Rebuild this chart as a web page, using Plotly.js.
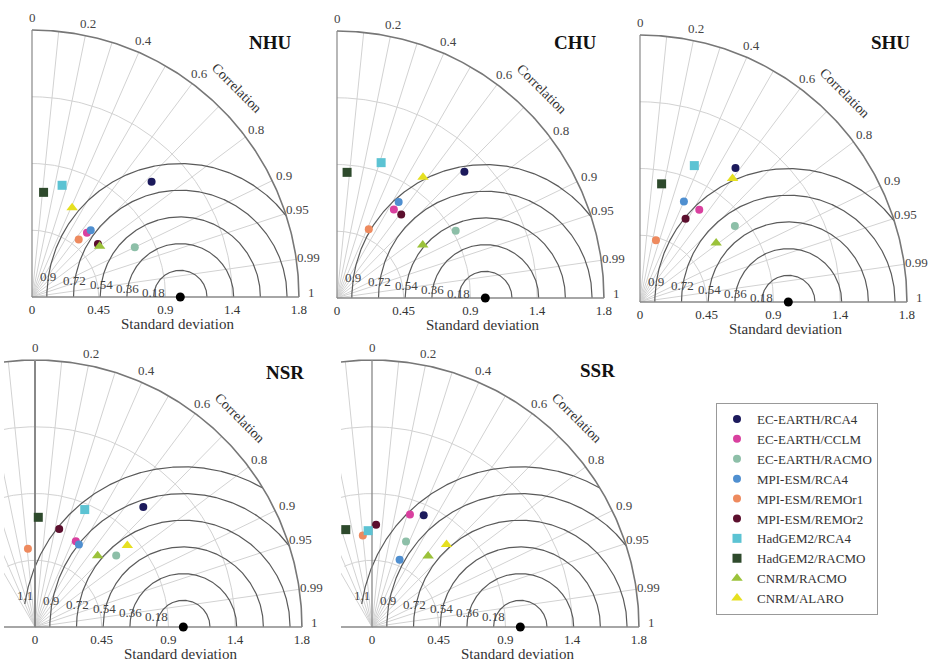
<!DOCTYPE html>
<html><head><meta charset="utf-8">
<script src="https://cdn.plot.ly/plotly-3.0.1.min.js"></script>
<style>html,body{margin:0;padding:0;background:#fff}#chart{width:931px;height:664px}</style>
</head><body><div id="chart"></div>
<script>
// ---------- data ----------
const models = ['EC-EARTH/RCA4','EC-EARTH/CCLM','EC-EARTH/RACMO','MPI-ESM/RCA4','MPI-ESM/REMOr1',
                'MPI-ESM/REMOr2','HadGEM2/RCA4','HadGEM2/RACMO','CNRM/RACMO','CNRM/ALARO'];
const modelColors = ['#1c1a5c','#d9409f','#8dbfa8','#4f8fd0','#ee8a5e','#5c0f2e','#5cc3d3','#2e4a2c','#9bc23a','#e6e020'];
const modelSymbols = ['circle','circle','circle','circle','circle','circle','square','square','triangle-up','triangle-up'];
const modelSizes = [8,8,8,8,8,8,9,9,10,10];

const regions = ['NHU','CHU','SHU','NSR','SSR'];
const stdNHU  = [1.12, 0.57, 0.77, 0.60, 0.50, 0.57, 0.78, 0.71, 0.57, 0.66];
const corrNHU = [0.72, 0.65, 0.90, 0.66, 0.63, 0.78, 0.26, 0.11, 0.80, 0.41];
const stdCHU  = [1.21, 0.71, 0.92, 0.77, 0.51, 0.71, 0.96, 0.85, 0.68, 1.00];
const corrCHU = [0.71, 0.54, 0.87, 0.54, 0.42, 0.61, 0.31, 0.08, 0.85, 0.58];
const stdSHU  = [1.11, 0.74, 0.82, 0.74, 0.43, 0.64, 0.99, 0.81, 0.65, 1.04];
const corrSHU = [0.58, 0.54, 0.78, 0.40, 0.25, 0.48, 0.37, 0.18, 0.79, 0.60];
const stdNSR  = [1.09, 0.64, 0.73, 0.63, 0.53, 0.68, 0.86, 0.74, 0.64, 0.83];
const corrNSR = [0.67, 0.43, 0.75, 0.47, -0.09, 0.24, 0.39, 0.03, 0.66, 0.75];
const stdSSR  = [0.83, 0.80, 0.62, 0.49, 0.62, 0.69, 0.65, 0.68, 0.61, 0.75];
const corrSSR = [0.42, 0.32, 0.37, 0.38, -0.10, 0.04, -0.04, -0.26, 0.62, 0.67];

const refStd = 1.0;
const maxStd = 1.8;
const stdTicks = [0, 0.45, 0.9, 1.35, 1.8];
const stdTickLabels = ['0','0.45','0.9','1.4','1.8'];
const stdGrid = [0.45, 0.9, 1.35];
const corrTicks = [0, 0.2, 0.4, 0.6, 0.8, 0.9, 0.95, 0.99, 1];
const corrTickLabels = ['0','0.2','0.4','0.6','0.8','0.9','0.95','0.99','1'];
const corrGrid = [0.1,0.2,0.3,0.4,0.5,0.6,0.7,0.8,0.9,0.95,0.99];
const corrGridNeg = [-0.1,-0.2,-0.3,-0.4,-0.5];
const rmsLevels = [0.18, 0.36, 0.54, 0.72, 0.9, 1.08];
const rmsLabels = ['0.18','0.36','0.54','0.72','0.9','1.1'];

// ---------- layout geometry ----------
const W = 931, H = 664, K = 148.3;
const SERIF = 'Liberation Serif';
const panels = [
  {std:stdNHU, corr:corrNHU, ox:32,  oy:297, x0:28,  x1:318, top:4,   neg:false, tx:270, ty:42,  ls:0, vw:1.2},
  {std:stdCHU, corr:corrCHU, ox:337, oy:298, x0:333, x1:626, top:4,   neg:false, tx:575, ty:42,  ls:0, vw:1.2},
  {std:stdSHU, corr:corrSHU, ox:640, oy:302, x0:636, x1:929, top:4,   neg:false, tx:890, ty:42,  ls:0, vw:1.2},
  {std:stdNSR, corr:corrNSR, ox:35,  oy:627, x0:4,   x1:322, top:334, neg:true,  tx:285, ty:372, ls:6, vw:2},
  {std:stdSSR, corr:corrSSR, ox:372, oy:627, x0:341, x1:662, top:334, neg:true,  tx:597, ty:371, ls:6, vw:1.3}
];

function arcPts(r, t0, t1, n, X, Y){
  for(let i=0;i<=n;i++){const t=t0+(t1-t0)*i/n; X.push(r*Math.cos(t)); Y.push(r*Math.sin(t));}
  X.push(null); Y.push(null);
}
function rayPts(c, X, Y){
  const t=Math.acos(c); X.push(0, maxStd*Math.cos(t), null); Y.push(0, maxStd*Math.sin(t), null);
}
function rmsPts(rho, tmax, X, Y){
  for(let i=0;i<=720;i++){
    const t=Math.PI*i/720, px=refStd+rho*Math.cos(t), py=rho*Math.sin(t);
    const r=Math.hypot(px,py), th=Math.atan2(py,px);
    if(r<=maxStd+1e-9 && th<=tmax){X.push(px);Y.push(py);} else {X.push(null);Y.push(null);}
  }
  X.push(null); Y.push(null);
}

const traces = [];
const annotations = [];
const layout = {
  width: W, height: H, margin:{l:0,r:0,t:0,b:0},
  paper_bgcolor:'#fff', plot_bgcolor:'rgba(0,0,0,0)',
  showlegend:true,
  legend:{x:716/W, y:1-403/H, xanchor:'left', yanchor:'top',
          font:{family:SERIF, size:13, color:'#333'}, bordercolor:'#999', borderwidth:1,
          bgcolor:'#fff', tracegroupgap:0},
  annotations: annotations
};

panels.forEach((p, i) => {
  const s = i===0 ? '' : String(i+1);
  const xa = 'x'+s, ya = 'y'+s;
  const bottom = p.oy + 3;
  layout['xaxis'+s] = {
    domain:[p.x0/W, p.x1/W], range:[(p.x0-p.ox)/K, (p.x1-p.ox)/K], anchor:ya,
    showgrid:false, zeroline:false, showline:false, ticks:'',
    tickmode:'array', tickvals:stdTicks, ticktext:stdTickLabels,
    tickfont:{family:SERIF, size:13, color:'#333'}, fixedrange:true
  };
  layout['yaxis'+s] = {
    domain:[1-bottom/H, 1-p.top/H], range:[-3/K, (p.oy-p.top)/K], anchor:xa,
    visible:false, fixedrange:true
  };
  const tmax = p.neg ? 2.0 : Math.PI/2;
  const paper = (ux, uy) => ({x:(p.ox+ux*K)/W, y:1-(p.oy-uy*K)/H, xref:'paper', yref:'paper',
                              xanchor:'center', yanchor:'middle', showarrow:false});

  // light grid: std arcs + correlation rays
  const gx=[], gy=[];
  stdGrid.forEach(r => arcPts(r, 0, tmax, 120, gx, gy));
  corrGrid.forEach(c => rayPts(c, gx, gy));
  if(p.neg) corrGridNeg.forEach(c => rayPts(c, gx, gy));
  traces.push({x:gx, y:gy, xaxis:xa, yaxis:ya, mode:'lines', line:{color:'#d2d2d2', width:1},
               hoverinfo:'skip', showlegend:false});

  // RMS circles
  const nR = p.neg ? rmsLevels.length : rmsLevels.length-1;
  const rx=[], ry=[];
  for(let k=0;k<nR;k++) rmsPts(rmsLevels[k], tmax, rx, ry);
  traces.push({x:rx, y:ry, xaxis:xa, yaxis:ya, mode:'lines', line:{color:'#5a5a5a', width:1.2},
               hoverinfo:'skip', showlegend:false});

  // frame: outer arc, vertical axis, baseline
  const fx=[], fy=[];
  arcPts(maxStd, 0, tmax, 200, fx, fy);
  traces.push({x:fx, y:fy, xaxis:xa, yaxis:ya, mode:'lines', line:{color:'#777', width:1.6},
               hoverinfo:'skip', showlegend:false});
  const vx=[], vy=[];
  rayPts(0, vx, vy);
  traces.push({x:vx, y:vy, xaxis:xa, yaxis:ya, mode:'lines', line:{color:'#888', width:p.vw},
               hoverinfo:'skip', showlegend:false});
  const xmin = p.neg ? (p.x0-p.ox)/K : 0;
  traces.push({x:[xmin, maxStd], y:[0, 0], xaxis:xa, yaxis:ya, mode:'lines', line:{color:'#888', width:1.5},
               hoverinfo:'skip', showlegend:false});

  // model points
  models.forEach((m, j) => {
    const sd = p.std[j], c = p.corr[j];
    traces.push({
      x:[sd*c], y:[sd*Math.sqrt(1-c*c)], xaxis:xa, yaxis:ya, mode:'markers', name:m,
      marker:{color:modelColors[j], symbol:modelSymbols[j], size:modelSizes[j], line:{width:0}},
      showlegend: i===0, cliponaxis:false
    });
  });
  // reference (observed) point
  traces.push({x:[refStd], y:[0], xaxis:xa, yaxis:ya, mode:'markers',
               marker:{color:'#000', size:9}, showlegend:false, cliponaxis:false, hoverinfo:'skip'});

  // correlation tick labels
  corrTicks.forEach((c, k) => {
    const t = Math.acos(c), r = 1.885;
    annotations.push(Object.assign(paper(r*Math.cos(t), r*Math.sin(t)), {
      text:corrTickLabels[k], yshift: c===1 ? 5 : 0, font:{family:SERIF, size:13, color:'#444'}
    }));
  });
  // "Correlation" title
  const tc = 45.5*Math.PI/180, rc = 1.975;
  annotations.push(Object.assign(paper(rc*Math.cos(tc), rc*Math.sin(tc)), {
    text:'Correlation', textangle:45, font:{family:SERIF, size:14, color:'#333'}
  }));
  // RMS labels
  const phi = 9*Math.PI/180;
  for(let k=0;k<nR;k++){
    const rho = rmsLevels[k];
    annotations.push(Object.assign(paper(refStd-rho*Math.cos(phi), rho*Math.sin(phi)), {
      text:rmsLabels[k], yshift:p.ls, font:{family:SERIF, size:13, color:'#444'}
    }));
  }
  // panel name
  annotations.push({x:p.tx/W, y:1-p.ty/H, xref:'paper', yref:'paper', text:'<b>'+regions[i]+'</b>',
    xanchor:'center', yanchor:'middle', showarrow:false, font:{family:SERIF, size:19, color:'#111'}});
  // x title
  annotations.push({x:(p.ox+0.98*K)/W, y:1-(p.oy+17)/H, xref:'paper', yref:'paper',
    xanchor:'center', yanchor:'top', text:'Standard deviation', showarrow:false,
    font:{family:SERIF, size:15, color:'#333'}});
});

Plotly.newPlot('chart', traces, layout, {staticPlot:true, displayModeBar:false});
</script>
</body></html>
